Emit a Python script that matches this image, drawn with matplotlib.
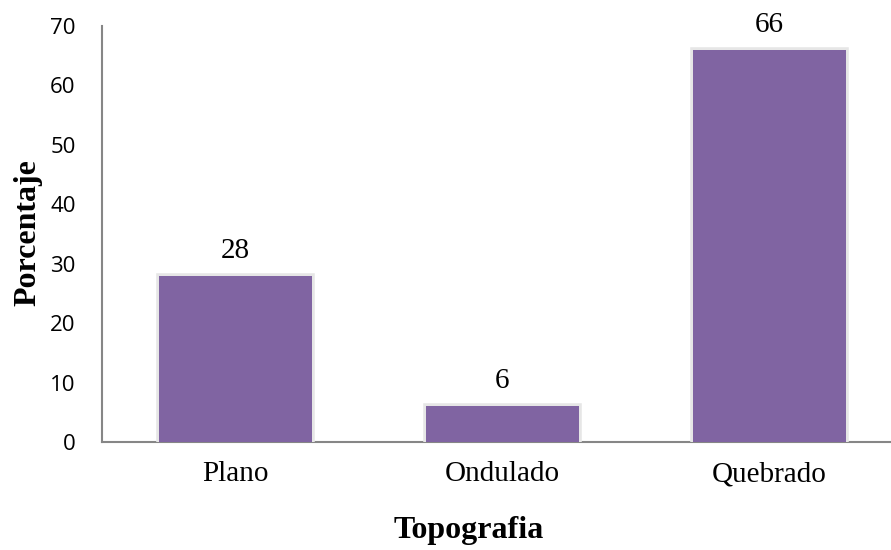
import matplotlib
matplotlib.use("Agg")
import matplotlib.pyplot as plt
import matplotlib.patheffects as pe

categories = ["Plano", "Ondulado", "Quebrado"]
values = [28, 6, 66]
yticks = [0, 10, 20, 30, 40, 50, 60, 70]

W, H = 891, 550
fig = plt.figure(figsize=(W / 100, H / 100), dpi=100)
ax = fig.add_axes([102 / W, (H - 442) / H, (W - 102) / W, (442 - 26) / H])

bar_color = "#8064A2"
axis_color = "#868686"

bars = ax.bar(range(len(categories)), values, width=0.57, color=bar_color,
              zorder=3)
for b in bars:
    b.set_path_effects([pe.withStroke(linewidth=4, foreground="#e6e6e6"),
                        pe.Normal()])

for i, v in enumerate(values):
    ax.annotate(str(v), (i, v), xytext=(0, 13), textcoords="offset points",
                ha="center", va="baseline", fontsize=21,
                family="Liberation Serif", color="black")

ax.set_xlim(-0.5, 2.5 - 12 / 267)
ax.set_ylim(0, 70)
ax.set_yticks(yticks)
ax.set_xticks(range(len(categories)))
ax.set_xticklabels(categories, family="Liberation Serif", fontsize=21)
ax.tick_params(axis="x", length=0, pad=14)
ax.tick_params(axis="y", length=0, pad=19, labelsize=16)
for lab in ax.get_yticklabels():
    lab.set_family("Open Sans")

for s in ["top", "right"]:
    ax.spines[s].set_visible(False)
for s in ["left", "bottom"]:
    ax.spines[s].set_color(axis_color)
    ax.spines[s].set_linewidth(1.5)

fig.text(28 / W, 1 - 233 / H, "Porcentaje", rotation=90, ha="center",
         va="center", family="Liberation Serif", fontweight="bold",
         fontsize=23)
fig.text(469 / W, 1 - 538 / H, "Topografia", ha="center", va="baseline",
         family="Liberation Serif", fontweight="bold", fontsize=23)

fig.savefig("out.png", dpi=100)
